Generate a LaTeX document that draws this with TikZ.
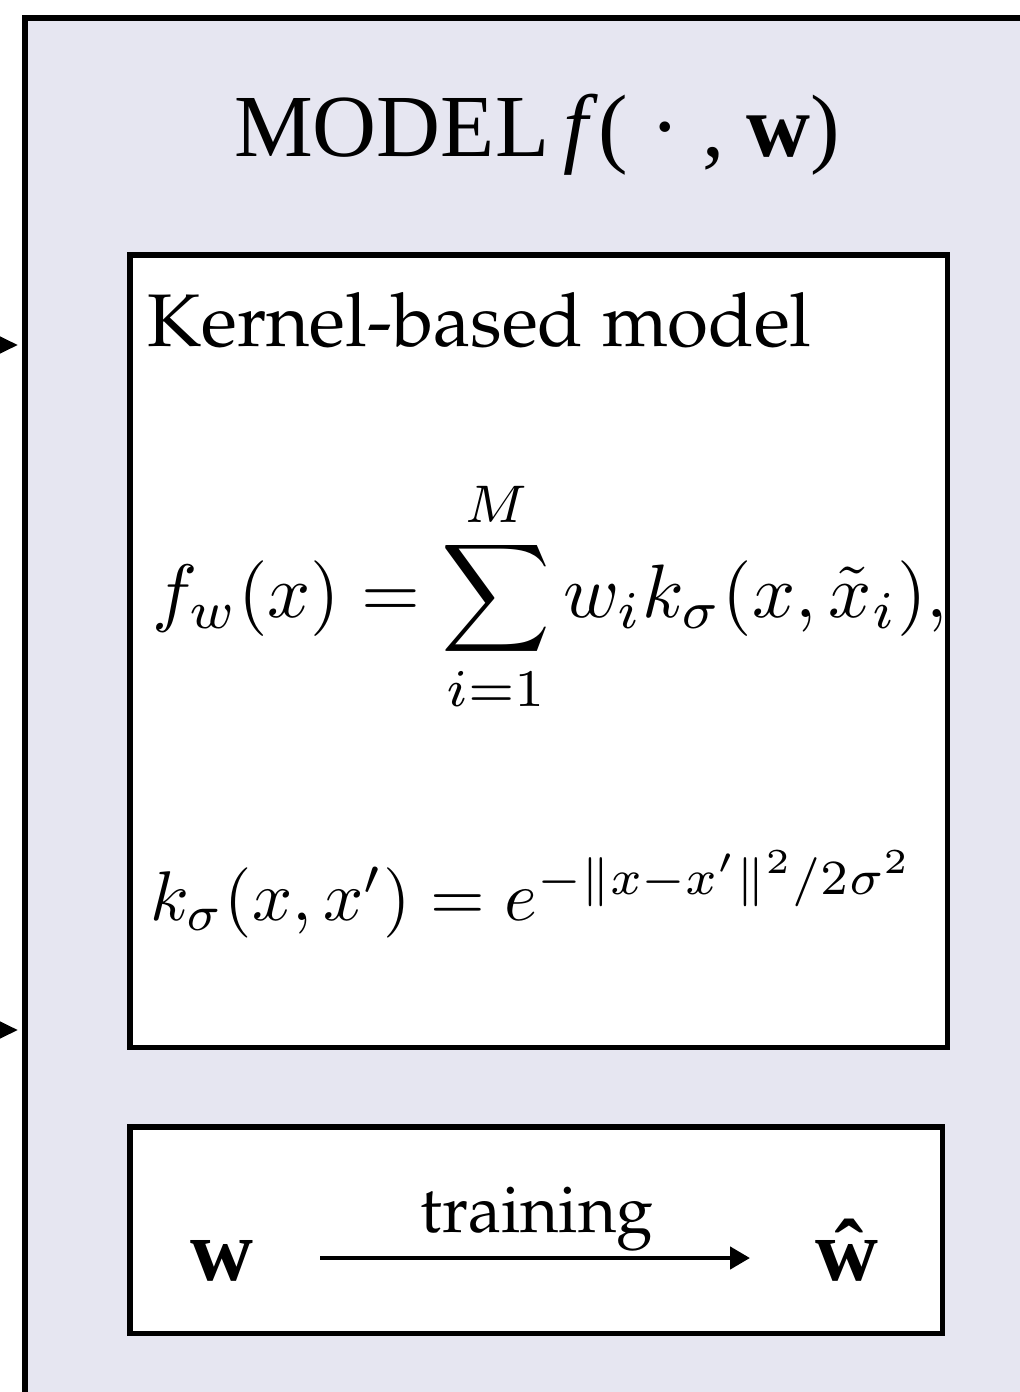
\documentclass[tikz,border=0pt]{standalone}
\usepackage[T1,TU]{fontenc}
\usepackage{fontspec}
\setmainfont{Liberation Serif}
\usepackage{graphicx}
\usepackage{tikz}
\usetikzlibrary{arrows.meta, positioning}
\definecolor{modelbg}{RGB}{230,230,241}
\newcommand{\palfont}{\fontencoding{T1}\fontfamily{ppl}\selectfont}

\begin{document}
\begin{tikzpicture}[
			x=0.025cm, y=-0.025cm,
			outerbox/.style={
				rectangle,
				draw,
				fill=modelbg,
				line width=3.6pt,
				outer sep=0pt,
				anchor=north west
			},
			panel/.style={
				rectangle,
				draw,
				fill=white,
				line width=3.6pt,
				outer sep=0pt,
				anchor=north west
			},
			feed/.style={
				-{Triangle[length=0.5cm, width=0.45cm]},
				line width=3pt
			},
			flow/.style={
				-{Triangle[length=0.5cm, width=0.55cm]},
				line width=3.2pt
			}
			]
			\useasboundingbox (0,0) rectangle (1019,1392);
			
			% Outer block: the model
			\node[outerbox, minimum width=30cm, minimum height=40cm] (model) at (25,18) {};
			\node[anchor=base, font=\fontsize{63}{72}\selectfont] (title) at (537,157)
				{MODEL\,\textit{f}( · , \textbf{w})};
			
			% Inputs coming from the left
			\coordinate (in1) at (-80,345);
			\coordinate (in2) at (-80,1030);
			\draw[feed, shorten >=5] (in1) -- (in1 -| model.west);
			\draw[feed, shorten >=5] (in2) -- (in2 -| model.west);
			
			% Block 1: Kernel-based model
			\node[panel, minimum width=20.425cm, minimum height=19.8cm] (kernel) at (130,255) {};
			\node[anchor=base west, inner sep=0pt, font=\palfont\fontsize{53}{63}\selectfont] (kname) at (147,346)
				{Kernel-based model};
			\begin{scope}
				\clip (kernel.north west) rectangle ([xshift=-1.8pt]kernel.south east);
				\node[anchor=base west, inner sep=0pt] (fw) at (152,617)
					{\scalebox{5.38}{$\displaystyle f_w(x) = \sum_{i=1}^{M} w_i k_\sigma(x,\tilde{x}_i),$}};
			\end{scope}
			\node[anchor=base west, inner sep=0pt] (ks) at (150,920)
				{\scalebox{5.0}{$k_\sigma(x,x') = e^{-\|x-x'\|^2/2\sigma^2}$}};
			
			% Block 2: training
			\node[panel, minimum width=20.3cm, minimum height=5.15cm] (train) at (130,1127) {};
			\node[anchor=base west, inner sep=0pt, font=\fontsize{62}{72}\selectfont] (w) at (190,1280) {\textbf{w}};
			\node[anchor=base west, inner sep=0pt, font=\fontsize{62}{72}\selectfont] (what) at (815,1280) {\textbf{ŵ}};
			\coordinate (wa) at (320,1258);
			\coordinate (wb) at (750,1258);
			\draw[flow] (wa) -- (wb);
			\node[anchor=base, inner sep=0pt, font=\palfont\fontsize{47}{56}\selectfont] (tlabel) at (537,1232) {training};
			
		\end{tikzpicture}
\end{document}
